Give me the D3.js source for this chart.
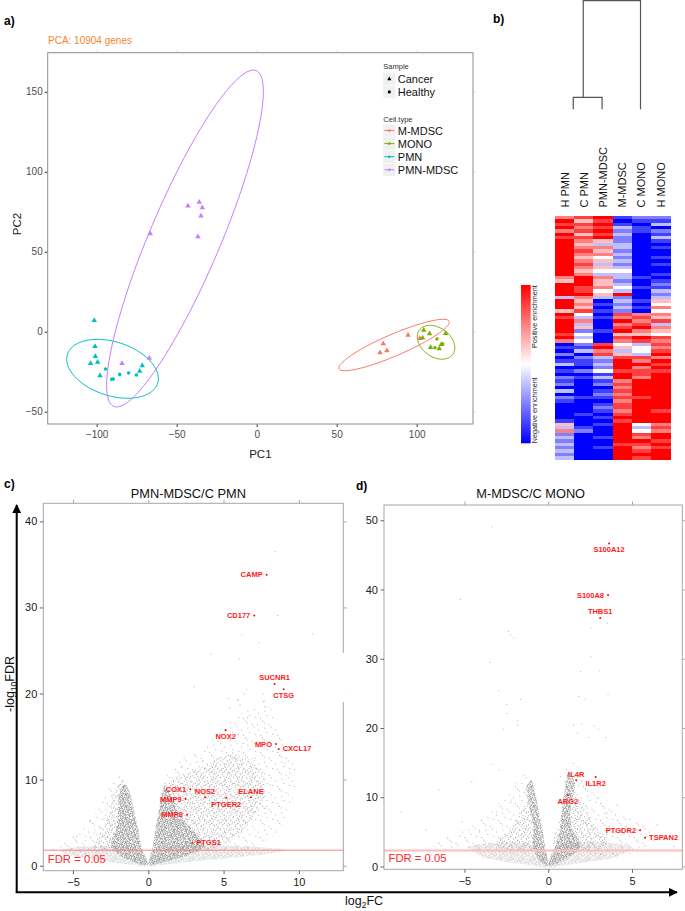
<!DOCTYPE html>
<html><head><meta charset="utf-8">
<script src="https://cdn.jsdelivr.net/npm/d3@7"></script>
<style>body{margin:0;background:#fff}svg{display:block;font-family:Arial,"Liberation Sans",sans-serif}</style>
</head><body>
<svg id="c" width="685" height="911"></svg>
<script>
// ---------------- DATA ----------------
// Panel a: PCA
const pcaTitle = "PCA: 10904 genes";
const pcaTicksX = [-100, -50, 0, 50, 100];
const pcaTicksY = [-50, 0, 50, 100, 150];
const cellTypes = ["M-MDSC", "MONO", "PMN", "PMN-MDSC"];
const samples = ["Cancer", "Healthy"];
// [PC1, PC2, sample]
const pcaMMDSC = [[79.1,-7.5,"Cancer"],[77.1,-13.1,"Cancer"],[81.4,-11.9,"Cancer"],[94.6,-2.1,"Cancer"],[101.9,-4.2,"Cancer"]];
const pcaMONO = [[104.4,0.9,"Cancer"],[103.7,-3.9,"Cancer"],[108.1,-1.2,"Cancer"],[112.7,-4.6,"Healthy"],[118.1,-1.0,"Cancer"],[108.7,-9.8,"Cancer"],[111.4,-10,"Healthy"],[114.1,-10.6,"Cancer"],[115.4,-7.9,"Cancer"],[116.3,-7.7,"Healthy"]];
const pcaPMN = [[-101.5,7.1,"Cancer"],[-101,-9.2,"Cancer"],[-100.8,-15.4,"Cancer"],[-99.4,-19.1,"Cancer"],[-103.8,-19.8,"Cancer"],[-97.9,-27.5,"Cancer"],[-94.4,-23.3,"Healthy"],[-90.6,-29.8,"Healthy"],[-89.6,-29.6,"Healthy"],[-85.6,-26.7,"Healthy"],[-80,-25.8,"Healthy"],[-75.2,-27.1,"Healthy"],[-73.1,-24.6,"Cancer"],[-71.5,-21.2,"Cancer"]];
const pcaPMNMDSC = [[-43,78.6,"Cancer"],[-35.9,81,"Cancer"],[-34,77.5,"Cancer"],[-34.8,72.3,"Cancer"],[-36.7,59.4,"Cancer"],[-66.5,61.3,"Cancer"],[-84.2,-19.8,"Cancer"],[-67.1,-16.6,"Cancer"]];
// ellipses: [centre PC1, centre PC2, semi-major, semi-minor, angle deg]
const ellMMDSC = [85.9, -8.3, 37.45, 6.75, 23.3];
const ellMONO = [112.1, -6.6, 12.9, 9.1, -36.4];
const ellPMN = [-90.1, -23.2, 29.6, 16.8, -17.9];
const ellPMNMDSC = [-44.8, 58.25, 114, 22.1, 67];

// Panel b: heatmap (0 = blue, 4 = white, 8 = red), rows top to bottom
const heatCols = ["H PMN", "C PMN", "PMN-MDSC", "M-MDSC", "C MONO", "H MONO"];
const heatHPMN = ["6878687","88888888888","65","8888","3","888","5","878888786","01020130102","12030210","00001","536","23232323"].join("");
const heatCPMN = ["7576757","65676567656","88","87786","5657","436352434","21302110201","00000100","00100","012","00000000"].join("");
const heatPMNMDSC = ["8787878","53656453543","65","56453","0101","010001000","7867","3232413","12012101","21010","100","01001000"].join("");
const heatMMDSC = ["1013232","23323232343","32","34382","3232","768678576","4535","7888788","67676767","76787","888","88878888"].join("");
const heatCMONO = ["2101100","00000000000","10","01000","1010","676786587","3443","7686776","88888788","88888","434","76876787"].join("");
const heatHMONO = ["2130213","10100101001","01","21323","5464","657365476","7678","6878788","88888888","87888","676","88787888"].join("");
// dendrogram merges: [left pos, right pos, left height, right height, merge height] (column units)
const dendroMerges = [[0.45, 1.95, 0, 0, 1], [0.97, 3.95, 1, 0, 9.1]];
const legendLabels = ["Positive enrichment", "Negative enrichment"];

// Panel c: PMN-MDSC / C PMN volcano
const cTitle = "PMN-MDSC/C PMN";
const cTicksX = [-5, 0, 5, 10];
const cTicksY = [0, 10, 20, 30, 40];
const cFDR = 1.8;
const cGenes = [["CAMP",7.86,33.8],["CD177",7.04,29.07],["SUCNR1",8.39,21.1],["CTSG",8.99,20.5],["NOX2",5.14,15.74],["MPO",8.48,14.15],["CXCL17",8.66,13.57],["COX1",2.79,8.88],["NOS2",3.77,7.95],["ELANE",6.82,7.95],["MMP9",2.48,7.76],["PTGER2",5.18,7.9],["MMP8",2.57,5.93],["PTGS1",2.92,2.67]];
const cGray = [[8.43,36.5],[8.59,29.07],[10.92,26.94],[6.2,26.8],[7.35,25.9],[4.16,24.6],[6.04,24.0],[3.05,20.78],[6.53,20.5],[6.37,19.97],[7.62,19.97],[5.34,19.42],[5.96,19.19],[6.09,18.69],[7.64,19.07],[7.79,18.42],[5.4,18.3],[5.98,19.27],[7.7,19.15],[7.26,16.36],[9.08,11.9],[7.8,6.67],[7.85,6.9],[6.6,17.2],[4.8,15.1],[6.3,14.2],[7.1,12.5],[9.4,10.8],[8.1,9.4],[-4.76,3.4],[-5.2,2.2],[-3.2,4.4],[-2.0,9.2],[-2.8,6.5],[-3.6,3.8],[-6.3,1.9],[-2.4,8.1],[-1.9,10.3],[-4.2,2.9],[-3.9,5.1],[3.6,12.1],[2.2,11.4],[4.4,11.0],[5.6,13.1],[1.6,10.2]];
// density envelopes read from the cloud: [light (non-significant), sparse, medium, dense]
const cLight = [[[-5.8,1.8],[-0.5,1.8],[-0.03,0],[-1,0.12],[-2,0.3],[-3,0.55],[-4,0.85],[-5.2,1.2]],[[0.03,0],[0.55,1.8],[9.2,1.8],[8,1.4],[6,1.0],[4.5,0.75],[3,0.5],[2,0.3],[1,0.12]]];
const cSparse = [[[-1.4,10.6],[-2.3,9.8],[-3.2,7],[-4.3,4.5],[-5.5,2.8],[-6,1.9],[-2.4,1.9],[-1.9,6]],[[1.0,9.6],[2.3,12.5],[3.6,13.6],[5,16.2],[6.5,18],[8,18.4],[9.2,14],[9.8,10.5],[9.2,6],[8.3,3.5],[6.5,1.9],[3,1.9],[1.8,5]]];
const cMedium = [[[-0.6,2.2],[-0.8,4.5],[-1.2,8.2],[-1.6,10],[-2.2,8.8],[-2.6,6],[-3.3,3.4],[-3.6,1.9],[-1,1.9]],[[0.4,2.2],[0.7,5.5],[1.0,8.6],[1.8,10.2],[3.2,11.2],[4.8,12.6],[6.2,12.8],[7.6,10.5],[7.6,7.4],[6.6,4.8],[5.5,3],[4,1.9],[0.6,1.9]]];
const cDense = [[[-0.05,0.1],[-0.45,2.2],[-0.7,4.5],[-0.95,6.4],[-1.2,8.3],[-1.55,9.5],[-1.9,8.6],[-2.0,6.4],[-2.1,4.5],[-2.45,2.2],[-1.7,1.0],[-0.5,0.2]],[[0.05,0.1],[0.3,2.2],[0.5,4.5],[0.7,6.4],[0.9,8.3],[1.1,9.4],[1.45,8.4],[1.9,6.6],[2.5,5],[3.3,3.5],[3.7,2.2],[2.2,1.0],[0.5,0.2]]];

// Panel d: M-MDSC / C MONO volcano
const dTitle = "M-MDSC/C MONO";
const dTicksX = [-5, 0, 5];
const dTicksY = [0, 10, 20, 30, 40, 50];
const dFDR = 2.3;
const dGenes = [["S100A12",3.63,46.65],["S100A8",3.57,39.2],["THBS1",3.1,35.9],["IL4R",1.67,12.45],["IL1R2",2.83,12.93],["ARG2",1.17,10.3],["PTGDR2",5.48,5.24],["TSPAN2",5.78,4.17]];
const dGray = [[-3.36,49.05],[-5.24,38.57],[-2.37,33.95],[-2.23,33.46],[-2.05,33.03],[-3.48,29.48],[-2.97,25.38],[-2.47,23.42],[-1.65,24.14],[2.53,34.43],[3.52,35.15],[2.55,30.29],[1.93,28.18],[3.06,28.27],[1.81,24.57],[2.21,24.18],[3.57,24.8],[-2.47,22.12],[-1.83,21.05],[-1.81,20.43],[-2.67,19.86],[-2.93,13.94],[-3.37,14.76],[-4.56,12.25],[-6.51,11.05],[-8.78,7.84],[-7.29,5.28],[-5.14,6.48],[1.51,20.43],[2.01,20.58],[2.75,20.33],[3.0,19.86],[3.42,18.6],[2.41,18.66],[1.75,19.23],[1.51,14.9],[1.75,14.41],[2.21,11.3],[0.72,12.97],[4.1,8.9],[3.5,7.7],[6.5,6.0],[7.5,2.9],[-1.9,12.1],[-2.2,9.6],[-3.1,7.9],[-4.1,5.2],[-6.0,4.1],[2.9,9.9],[4.6,6.8]];
const dLight = [[[-4.8,2.8],[-0.4,2.8],[-0.03,0],[-1,0.2],[-2,0.5],[-3,0.9],[-4,1.5]],[[0.03,0],[0.45,2.8],[5,2.8],[4.2,1.5],[3,0.9],[2,0.5],[1,0.2]]];
const dSparse = [[[-1.2,13.5],[-2.2,11],[-3.5,8],[-5.2,5],[-7,3],[-4.8,2.6],[-0.9,2.6]],[[1.2,14.5],[2.4,12.5],[3.5,9.5],[4.8,7],[6.5,4.5],[6,2.6],[1.5,2.6]]];
const dMedium = [[[-0.4,2.6],[-0.7,6],[-1.1,9.2],[-1.5,8.5],[-2.2,5.5],[-3.2,3.2],[-2.8,2.6]],[[0.4,2.6],[0.85,8],[1.3,10.8],[1.9,9.5],[2.6,6.5],[3.6,3.6],[3,2.6]]];
const dDense = [[[-0.05,0.1],[-0.18,2.87],[-0.38,5.76],[-0.58,8.17],[-0.78,10.6],[-1.0,12.5],[-1.3,11.5],[-1.28,10.6],[-1.08,8.17],[-0.88,5.76],[-0.9,2.87],[-0.5,0.8]],[[0.05,0.1],[0.42,2.87],[0.72,5.76],[0.82,8.17],[0.96,10.6],[1.2,13.5],[1.6,12],[1.5,10.6],[1.31,8.17],[1.4,5.76],[1.9,2.87],[0.8,0.8]]];

// ---------------- DRAW ----------------
const svg = d3.select("#c");
const defs = svg.append("defs");
// texture tiles (styling only): quasi-regular dot placement
function halton(i, b) { let f = 1, r = 0; while (i > 0) { f /= b; r += f * (i % b); i = Math.floor(i / b); } return r; }
function dotPattern(id, size, n, off, color, r) {
  const p = defs.append("pattern").attr("id", id).attr("width", size).attr("height", size).attr("patternUnits", "userSpaceOnUse");
  for (let i = 1; i <= n; i++) p.append("circle").attr("cx", halton(i + off, 2) * size).attr("cy", halton(i + off, 3) * size).attr("r", r).attr("fill", color);
}
dotPattern("pLight", 11, 60, 5, "#d2d2d2", 0.6);
dotPattern("pSparse", 17, 9, 40, "#a9a9a9", 0.55);
dotPattern("pMedium", 13, 22, 80, "#a0a0a0", 0.55);
dotPattern("pDense", 12, 62, 120, "#8e8e8e", 0.6);

const colorOf = d3.scaleOrdinal().domain(cellTypes).range(["#F8766D", "#7CAE00", "#00BFC4", "#C77CFF"]);
const shapeOf = d3.scaleOrdinal().domain(samples).range([d3.symbolTriangle, d3.symbolCircle]);

// Panel labels
[["a)", 4, 25], ["b)", 493, 23], ["c)", 4, 488], ["d)", 356, 490]].forEach(([t, x, y]) =>
  svg.append("text").attr("x", x).attr("y", y).attr("font-size", 12).attr("font-weight", "bold").text(t));

// ----- Panel a -----
(function () {
  const L = 47.7, R = 473, T = 52.7, B = 424;
  const x = d3.scaleLinear().domain([-130.6, 135.2]).range([L, R]);
  const y = d3.scaleLinear().domain([-57.7, 174.4]).range([B, T]);
  svg.append("text").attr("x", 48).attr("y", 44).attr("font-size", 10).attr("fill", "#F5862F").text(pcaTitle);
  svg.append("rect").attr("x", L).attr("y", T).attr("width", R - L).attr("height", B - T).attr("fill", "#fff");
  const ax = (gen, tr) => {
    const g = svg.append("g").attr("transform", tr).call(gen);
    g.select(".domain").remove();
    return g;
  };
  const gl = ax(d3.axisLeft(y).tickValues(pcaTicksY).tickSize(3).tickPadding(2), `translate(${L},0)`);
  gl.selectAll("line").attr("stroke", "#333");
  gl.selectAll("text").attr("font-size", 10).attr("fill", "#4d4d4d").attr("font-family", "Arial");
  const gb = ax(d3.axisBottom(x).tickValues(pcaTicksX).tickSize(3).tickPadding(4), `translate(0,${B})`);
  gb.selectAll("line").attr("stroke", "#333");
  gb.selectAll("text").attr("font-size", 10).attr("fill", "#4d4d4d").attr("font-family", "Arial");
  const gt = ax(d3.axisTop(x).tickValues(pcaTicksX).tickSize(3).tickFormat(""), `translate(0,${T})`);
  gt.selectAll("line").attr("stroke", "#e6e6e6");
  const gr = ax(d3.axisRight(y).tickValues(pcaTicksY).tickSize(3).tickFormat(""), `translate(${R},0)`);
  gr.selectAll("line").attr("stroke", "#e6e6e6");
  svg.append("text").attr("x", (L + R) / 2).attr("y", 457.5).attr("text-anchor", "middle").attr("font-size", 11.5).attr("fill", "#222").text("PC1");
  svg.append("text").attr("transform", "translate(20.5,224) rotate(-90)").attr("text-anchor", "middle").attr("font-size", 11.5).attr("fill", "#222").text("PC2");

  const ells = [[ellMMDSC, "M-MDSC"], [ellMONO, "MONO"], [ellPMN, "PMN"], [ellPMNMDSC, "PMN-MDSC"]];
  const ln = d3.line().x(d => x(d[0])).y(d => y(d[1]));
  ells.forEach(([e, t]) => {
    const [cx, cy, a, b, ang] = e, th = ang * Math.PI / 180;
    const pts = d3.range(0, 361, 3).map(deg => {
      const u = deg * Math.PI / 180;
      return [cx + a * Math.cos(th) * Math.cos(u) - b * Math.sin(th) * Math.sin(u),
              cy + a * Math.sin(th) * Math.cos(u) + b * Math.cos(th) * Math.sin(u)];
    });
    svg.append("path").attr("d", ln(pts)).attr("fill", "none").attr("stroke", colorOf(t)).attr("stroke-width", 1);
  });
  const groups = [[pcaMMDSC, "M-MDSC"], [pcaMONO, "MONO"], [pcaPMN, "PMN"], [pcaPMNMDSC, "PMN-MDSC"]];
  groups.forEach(([pts, t]) => {
    svg.append("g").selectAll("path").data(pts).join("path")
      .attr("transform", d => `translate(${x(d[0])},${y(d[1])})`)
      .attr("d", d => d3.symbol().type(shapeOf(d[2])).size(d[2] === "Cancer" ? 13 : 10)())
      .attr("fill", colorOf(t));
  });
  svg.append("rect").attr("x", L).attr("y", T).attr("width", R - L).attr("height", B - T).attr("fill", "none").attr("stroke", "#8c8c8c").attr("stroke-width", 1);

  // legend
  const lx = 383.3;
  svg.append("text").attr("x", lx).attr("y", 68.5).attr("font-size", 7.5).attr("fill", "#333").text("Sample");
  samples.forEach((s, i) => {
    const ry = 72.7 + i * 13;
    svg.append("rect").attr("x", lx).attr("y", ry).attr("width", 12).attr("height", 12.4).attr("fill", "#f0f0f0");
    svg.append("path").attr("transform", `translate(${lx + 6},${ry + 6.2})`).attr("d", d3.symbol().type(shapeOf(s)).size(8)()).attr("fill", "#000");
    svg.append("text").attr("x", lx + 14.5).attr("y", ry + 10.4).attr("font-size", 11).attr("fill", "#111").text(s);
  });
  svg.append("text").attr("x", lx).attr("y", 121.5).attr("font-size", 7.5).attr("fill", "#333").text("Cell.type");
  cellTypes.forEach((c, i) => {
    const ry = 124.3 + i * 13.1;
    svg.append("rect").attr("x", lx).attr("y", ry).attr("width", 12).attr("height", 12.4).attr("fill", "#f0f0f0");
    svg.append("line").attr("x1", lx + 1).attr("x2", lx + 11).attr("y1", ry + 6.2).attr("y2", ry + 6.2).attr("stroke", colorOf(c)).attr("stroke-width", 1);
    svg.append("circle").attr("cx", lx + 6).attr("cy", ry + 6.2).attr("r", 1.3).attr("fill", colorOf(c));
    svg.append("text").attr("x", lx + 14.5).attr("y", ry + 10.4).attr("font-size", 11).attr("fill", "#111").text(c);
  });
})();

// ----- Panel b -----
(function () {
  const cols = [heatHPMN, heatCPMN, heatPMNMDSC, heatMMDSC, heatCMONO, heatHMONO];
  const nRows = d3.min(cols, c => c.length);
  const xb = d3.scaleBand().domain(heatCols).range([555, 670.3]);
  const xu = d3.scaleLinear().domain([-0.5, 5.5]).range([555, 670.3]);
  const yb = d3.scaleBand().domain(d3.range(nRows)).range([216, 459.3]);
  const col = d3.scaleLinear().domain([0, 4, 8]).range(["#0000ff", "#ffffff", "#ff0000"]);
  const cells = [];
  cols.forEach((c, j) => { for (let i = 0; i < nRows; i++) cells.push([heatCols[j], i, +c[i]]); });
  svg.append("g").selectAll("rect").data(cells).join("rect")
    .attr("x", d => xb(d[0])).attr("y", d => yb(d[1])).attr("width", xb.bandwidth() + 0.3).attr("height", yb.bandwidth() + 0.3)
    .attr("fill", d => col(d[2])).attr("shape-rendering", "crispEdges");
  heatCols.forEach(c => {
    svg.append("text").attr("transform", `translate(${xb(c) + xb.bandwidth() / 2 + 4},207.5) rotate(-90)`)
      .attr("font-size", 11).attr("fill", "#111").text(c);
  });
  const yh = d3.scaleLinear().domain([0, 9.1]).range([109.3, 0.6]);
  dendroMerges.forEach(([a, b, ha, hb, h]) => {
    const p = d3.path();
    p.moveTo(xu(a), yh(ha)); p.lineTo(xu(a), yh(h)); p.lineTo(xu(b), yh(h)); p.lineTo(xu(b), yh(hb));
    svg.append("path").attr("d", p.toString()).attr("fill", "none").attr("stroke", "#555").attr("stroke-width", 1.2);
  });
  const grad = defs.append("linearGradient").attr("id", "gk").attr("x1", 0).attr("x2", 0).attr("y1", 0).attr("y2", 1);
  [[0, "#ff0000"], [0.5, "#ffffff"], [1, "#0000ff"]].forEach(([o, c]) => grad.append("stop").attr("offset", o).attr("stop-color", c));
  svg.append("rect").attr("x", 521).attr("y", 285).attr("width", 9.7).attr("height", 158.3).attr("fill", "url(#gk)");
  svg.append("text").attr("transform", "translate(537.3,348) rotate(-90)").attr("font-size", 7.2).attr("fill", "#222").text(legendLabels[0]);
  svg.append("text").attr("transform", "translate(537.3,443.3) rotate(-90)").attr("font-size", 7.2).attr("fill", "#222").text(legendLabels[1]);
})();

// ----- Volcano panels -----
function volcano(o) {
  const x = d3.scaleLinear().domain(o.xd).range([o.L, o.R]);
  const y = d3.scaleLinear().domain(o.yd).range([o.B, o.T]);
  svg.append("text").attr("x", o.titleX).attr("y", o.titleY).attr("text-anchor", "middle").attr("font-size", 12.8).attr("fill", "#111").text(o.title);
  svg.append("rect").attr("x", o.L).attr("y", o.T).attr("width", o.R - o.L).attr("height", o.B - o.T).attr("fill", "#fff");
  defs.append("clipPath").attr("id", "clip" + o.id).append("rect").attr("x", o.L).attr("y", o.T).attr("width", o.R - o.L).attr("height", o.B - o.T);
  const g = svg.append("g").attr("clip-path", `url(#clip${o.id})`);
  const ln = d3.line().x(d => x(d[0])).y(d => y(d[1])).curve(d3.curveCatmullRomClosed.alpha(0.5));
  [[o.light, "pLight"], [o.sparse, "pSparse"], [o.medium, "pMedium"], [o.dense, "pDense"]].forEach(([polys, pat]) =>
    polys.forEach(p => g.append("path").attr("d", ln(p)).attr("fill", `url(#${pat})`)));
  g.append("g").selectAll("circle").data(o.gray).join("circle")
    .attr("cx", d => x(d[0])).attr("cy", d => y(d[1])).attr("r", 0.6).attr("fill", "#b8b8b8");
  g.append("line").attr("x1", o.L).attr("x2", o.R).attr("y1", y(o.fdr)).attr("y2", y(o.fdr)).attr("stroke", o.fdrColor).attr("stroke-width", o.fdrW);
  svg.append("text").attr("x", o.L + 4.5).attr("y", o.B - 7.5).attr("font-size", 11.3).attr("fill", "#ff2a2a").text("FDR = 0.05");
  g.append("g").selectAll("circle").data(o.genes).join("circle")
    .attr("cx", d => x(d[1])).attr("cy", d => y(d[2])).attr("r", 1).attr("fill", "#ff0000");
  o.genes.forEach(d => {
    const side = o.side[d[0]], px = x(d[1]), py = y(d[2]);
    const t = svg.append("text").attr("font-size", 7.5).attr("font-weight", "bold").attr("fill", "#ff1a1a").text(d[0]);
    if (side === "l") t.attr("x", px - 4).attr("y", py + 2.6).attr("text-anchor", "end");
    else if (side === "r") t.attr("x", px + 4).attr("y", py + 2.6);
    else if (side === "a") t.attr("x", px).attr("y", py - 3.6).attr("text-anchor", "middle");
    else t.attr("x", px).attr("y", py + 9).attr("text-anchor", "middle");
  });
  svg.append("rect").attr("x", o.L).attr("y", o.T).attr("width", o.R - o.L).attr("height", o.B - o.T).attr("fill", "none").attr("stroke", "#a6a6a6").attr("stroke-width", 1);
  const ax = (gen, tr) => { const a = svg.append("g").attr("transform", tr).call(gen); a.select(".domain").remove(); return a; };
  const gl = ax(d3.axisLeft(y).tickValues(o.yt).tickSize(3.5).tickPadding(2.5), `translate(${o.L},0)`);
  gl.selectAll("line").attr("stroke", "#666");
  gl.selectAll("text").attr("font-size", 11).attr("fill", "#222").attr("font-family", "Arial");
  const gb = ax(d3.axisBottom(x).tickValues(o.xt).tickSize(3.5).tickPadding(4), `translate(0,${o.B})`);
  gb.selectAll("line").attr("stroke", "#666");
  gb.selectAll("text").attr("font-size", 11).attr("fill", "#222").attr("font-family", "Arial");
  ax(d3.axisTop(x).tickValues(o.xt).tickSize(3.5).tickFormat(""), `translate(0,${o.T})`).selectAll("line").attr("stroke", "#aaa");
  ax(d3.axisRight(y).tickValues(o.yt).tickSize(3.5).tickFormat(""), `translate(${o.R},0)`).selectAll("line").attr("stroke", "#aaa");
}
volcano({id: "c", title: cTitle, titleX: 188.3, titleY: 497.5, L: 43.3, R: 343.3, T: 503.3, B: 870.7,
  xd: [-6.97, 12.95], yd: [-0.58, 42.1], xt: cTicksX, yt: cTicksY, fdr: cFDR, fdrColor: "#ff8080", fdrW: 1,
  genes: cGenes, gray: cGray, light: cLight, sparse: cSparse, medium: cMedium, dense: cDense,
  side: {CAMP: "l", CD177: "l", SUCNR1: "a", CTSG: "b", NOX2: "b", MPO: "l", CXCL17: "r", COX1: "l", NOS2: "a", ELANE: "a", MMP9: "l", PTGER2: "b", MMP8: "l", PTGS1: "r"}});
svg.append("rect").attr("x", 340.5).attr("y", 653).attr("width", 6).attr("height", 49).attr("fill", "#fff");
volcano({id: "d", title: dTitle, titleX: 530.7, titleY: 498, L: 384, R: 682.3, T: 505, B: 869.3,
  xd: [-9.8, 8.0], yd: [-0.4, 52.2], xt: dTicksX, yt: dTicksY, fdr: dFDR, fdrColor: "#ffbcbc", fdrW: 2,
  genes: dGenes, gray: dGray, light: dLight, sparse: dSparse, medium: dMedium, dense: dDense,
  side: {S100A12: "b", S100A8: "l", THBS1: "a", IL4R: "a", IL1R2: "b", ARG2: "b", PTGDR2: "l", TSPAN2: "r"}});

// shared axes arrows
const mk = defs.append("marker").attr("id", "arr").attr("viewBox", "0 0 10 10").attr("refX", 9).attr("refY", 5)
  .attr("markerWidth", 4.5).attr("markerHeight", 4.5).attr("orient", "auto");
mk.append("path").attr("d", "M0,0L10,5L0,10Z").attr("fill", "#000");
svg.append("line").attr("x1", 16.7).attr("y1", 892.3).attr("x2", 16.7).attr("y2", 505).attr("stroke", "#000").attr("stroke-width", 2).attr("marker-end", "url(#arr)");
svg.append("line").attr("x1", 15.7).attr("y1", 892.3).attr("x2", 677).attr("y2", 892.3).attr("stroke", "#000").attr("stroke-width", 2).attr("marker-end", "url(#arr)");
const yl = svg.append("text").attr("transform", "translate(14,684) rotate(-90)").attr("text-anchor", "middle").attr("font-size", 12.5).attr("fill", "#111");
yl.append("tspan").text("-log");
yl.append("tspan").attr("font-size", 8.5).attr("dy", 3).text("10");
yl.append("tspan").attr("dy", -3).text("FDR");
const xl = svg.append("text").attr("x", 345).attr("y", 905).attr("font-size", 12.5).attr("fill", "#111");
xl.append("tspan").text("log");
xl.append("tspan").attr("font-size", 8.5).attr("dy", 3).text("2");
xl.append("tspan").attr("dy", -3).text("FC");
</script></body></html>
